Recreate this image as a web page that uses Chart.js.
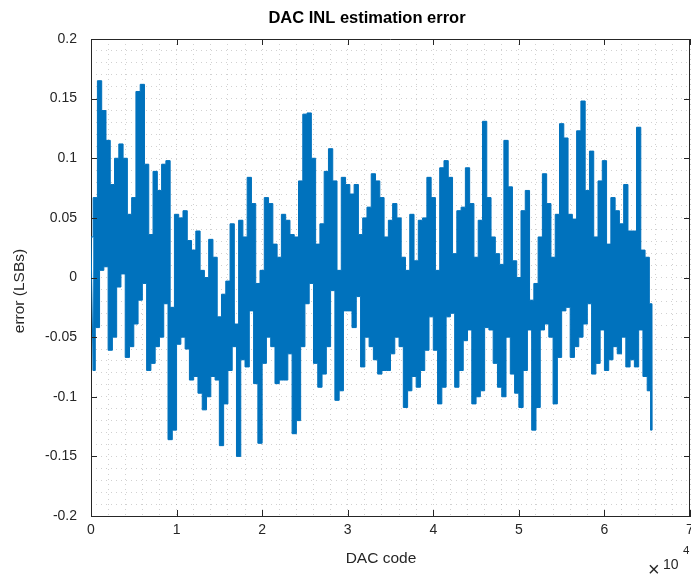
<!DOCTYPE html>
<html>
<head>
<meta charset="utf-8">
<script src="https://cdn.jsdelivr.net/npm/chart.js@4/dist/chart.umd.min.js"></script>
<style>
  html, body { margin: 0; padding: 0; background: #fff; }
  #wrap { width: 691px; height: 576px; }
</style>
</head>
<body>
<div id="wrap"><canvas id="inl"></canvas></div>
<script>
// INL error envelope, one top/bottom pair per 500 codes
var binWidth = 500;
var lastCode = 65535;
var errHi = [
  0.034, 0.067, 0.165, 0.140, 0.115, 0.078, 0.100, 0.112, 0.100, 0.053,
  0.067, 0.156, 0.162, 0.095, 0.036, 0.089, 0.073, 0.095, 0.098, -0.025,
  0.053, 0.050, 0.056, 0.031, 0.023, 0.039, 0.006, 0.000, 0.032, 0.017,
  -0.033, -0.014, -0.003, 0.045, -0.039, 0.048, 0.034, 0.084, 0.062, -0.005,
  0.006, 0.067, 0.062, 0.028, 0.017, 0.053, 0.048, 0.036, 0.034, 0.081,
  0.137, 0.138, 0.100, 0.028, 0.045, 0.089, 0.108, 0.081, 0.006, 0.084,
  0.078, 0.070, 0.078, 0.036, 0.050, 0.059, 0.087, 0.081, 0.067, 0.034,
  0.048, 0.062, 0.050, 0.017, 0.006, 0.053, 0.014, 0.048, 0.050, 0.084,
  0.067, 0.006, 0.092, 0.098, 0.084, 0.020, 0.056, 0.059, 0.092, 0.062,
  0.017, 0.048, 0.131, 0.067, 0.034, 0.020, 0.011, 0.115, 0.076, 0.014,
  0.000, 0.056, 0.073, -0.019, -0.005, 0.034, 0.087, 0.062, 0.017, 0.053,
  0.129, 0.117, 0.053, 0.049, 0.123, 0.148, 0.073, 0.106, 0.034, 0.081,
  0.098, 0.028, 0.067, 0.056, 0.045, 0.078, 0.039, 0.039, 0.126, 0.023,
  0.017, -0.022
];
var errLo = [
  -0.078, -0.042, 0.006, 0.009, -0.061, -0.050, -0.008, 0.003, -0.067, -0.058,
  -0.039, -0.019, -0.005, -0.078, -0.072, -0.058, -0.050, -0.022, -0.136, -0.128,
  -0.056, -0.050, -0.060, -0.086, -0.083, -0.097, -0.111, -0.100, -0.083, -0.086,
  -0.141, -0.106, -0.078, -0.058, -0.150, -0.069, -0.075, -0.028, -0.089, -0.139,
  -0.072, -0.050, -0.058, -0.089, -0.086, -0.086, -0.064, -0.131, -0.120, -0.058,
  -0.022, -0.005, -0.072, -0.092, -0.081, -0.058, -0.011, -0.103, -0.095, -0.028,
  -0.028, -0.042, -0.016, -0.075, -0.050, -0.058, -0.069, -0.081, -0.078, -0.078,
  -0.064, -0.050, -0.058, -0.109, -0.095, -0.083, -0.092, -0.078, -0.061, -0.033,
  -0.061, -0.106, -0.092, -0.033, -0.030, -0.092, -0.078, -0.053, -0.044, -0.106,
  -0.100, -0.095, -0.042, -0.044, -0.072, -0.092, -0.100, -0.050, -0.081, -0.097,
  -0.109, -0.078, -0.044, -0.128, -0.109, -0.044, -0.039, -0.050, -0.106, -0.067,
  -0.028, -0.025, -0.067, -0.058, -0.050, -0.039, -0.022, -0.081, -0.072, -0.044,
  -0.078, -0.069, -0.058, -0.064, -0.050, -0.075, -0.069, -0.075, -0.044, -0.083,
  -0.095, -0.128
];
var xTicks = [0, 1, 2, 3, 4, 5, 6, 7];       // x 10^4
var yTicks = [-0.2, -0.15, -0.1, -0.05, 0, 0.05, 0.1, 0.15, 0.2];

var ink = '#262626';
var blue = '#0072BD';
var font = '"Liberation Sans", Arial, sans-serif';

var hiPts = [], loPts = [], zig = [];
for (var i = 0; i < errHi.length; i++) {
  var c0 = i * binWidth;
  var c1 = Math.min(c0 + binWidth / 2, lastCode);
  hiPts.push({x: c0, y: errHi[i]});
  loPts.push({x: c1, y: errLo[i]});
  zig.push({x: c0, y: errHi[i]});
  zig.push({x: c1, y: errLo[i]});
}

var boxTicks = {
  id: 'boxTicks',
  afterDraw: function(chart) {
    var ctx = chart.ctx, a = chart.chartArea;
    var sx = chart.scales.x, sy = chart.scales.y;
    ctx.save();
    ctx.strokeStyle = ink;
    ctx.lineWidth = 1;
    ctx.beginPath();
    ctx.moveTo(a.left, a.top + 0.5); ctx.lineTo(a.right, a.top + 0.5);
    ctx.moveTo(a.right - 0.5, a.top); ctx.lineTo(a.right - 0.5, a.bottom);
    xTicks.forEach(function(t) {
      var px = Math.round(sx.getPixelForValue(t * 1e4)) + 0.5;
      ctx.moveTo(px, a.bottom); ctx.lineTo(px, a.bottom - 6);
      ctx.moveTo(px, a.top); ctx.lineTo(px, a.top + 6);
    });
    yTicks.forEach(function(t) {
      var py = Math.round(sy.getPixelForValue(t)) + 0.5;
      ctx.moveTo(a.left, py); ctx.lineTo(a.left + 6, py);
      ctx.moveTo(a.right, py); ctx.lineTo(a.right - 6, py);
    });
    ctx.stroke();

    ctx.textBaseline = 'alphabetic';
    ctx.textAlign = 'center';
    ctx.fillStyle = '#000';
    ctx.font = 'bold 16.5px ' + font;
    ctx.fillText('DAC INL estimation error', 367, 23);

    ctx.fillStyle = ink;
    ctx.font = '15.5px ' + font;
    ctx.fillText('DAC code', 381, 563);
    ctx.save();
    ctx.translate(24, 291);
    ctx.rotate(-Math.PI / 2);
    ctx.fillText('error (LSBs)', 0, 0);
    ctx.restore();

    // exponent note under the right end of the x axis
    ctx.textAlign = 'left';
    ctx.font = '20px ' + font;
    ctx.fillText('\u00d7', 648, 576);
    ctx.font = '14px ' + font;
    ctx.fillText('10', 663, 569);
    ctx.font = '11.5px ' + font;
    ctx.fillText('4', 683, 554);
    ctx.restore();
  }
};

var dotted = { color: 'rgba(140,140,140,0.4)', lineWidth: 1, drawTicks: false };

new Chart(document.getElementById('inl'), {
  type: 'line',
  data: {
    datasets: [{
      data: hiPts,
      borderColor: blue,
      borderWidth: 1,
      pointRadius: 0,
      stepped: 'middle',
      fill: false
    }, {
      data: loPts,
      borderColor: blue,
      backgroundColor: blue,
      borderWidth: 1,
      pointRadius: 0,
      stepped: 'middle',
      fill: '-1'
    }, {
      data: zig,
      borderColor: blue,
      borderWidth: 1,
      pointRadius: 0,
      tension: 0,
      fill: false
    }]
  },
  options: {
    responsive: true,
    maintainAspectRatio: false,
    animation: false,
    events: [],
    layout: { padding: { left: 0, right: 1, top: 39, bottom: 0 } },
    plugins: {
      legend: { display: false },
      tooltip: { enabled: false },
      title: { display: false }
    },
    scales: {
      x: {
        type: 'linear',
        position: 'bottom',
        min: 0, max: 70000,
        afterBuildTicks: function(s) { s.ticks = xTicks.map(function(v) { return {value: v * 1e4}; }); },
        afterFit: function(s) { s.height = 60; s.paddingLeft = 0; s.paddingRight = 0; },
        ticks: {
          color: ink,
          maxRotation: 0,
          padding: 6,
          font: { family: font, size: 14 },
          callback: function(v) { return String(v / 1e4); }
        },
        grid: { display: false, drawTicks: false },
        border: { display: true, color: ink, width: 1 }
      },
      y: {
        type: 'linear',
        position: 'left',
        min: -0.2, max: 0.2,
        afterBuildTicks: function(s) { s.ticks = yTicks.map(function(v) { return {value: v}; }); },
        afterFit: function(s) { s.width = 91; s.paddingTop = 0; s.paddingBottom = 0; },
        ticks: {
          color: ink,
          padding: 14,
          font: { family: font, size: 14 },
          callback: function(v) { return String(Math.round(v * 100) / 100); }
        },
        grid: { display: false, drawTicks: false },
        border: { display: true, color: ink, width: 1 }
      },
      xg: {
        type: 'linear',
        position: 'top',
        min: 0, max: 70000,
        ticks: { display: false, stepSize: 2000 },
        afterFit: function(s) { s.height = 0; s.paddingLeft = 0; s.paddingRight = 0; },
        grid: dotted,
        border: { display: false, dash: [1, 4] }
      },
      yg: {
        type: 'linear',
        position: 'right',
        min: -0.2, max: 0.2,
        ticks: { display: false, stepSize: 0.01 },
        afterFit: function(s) { s.width = 0; s.paddingTop = 0; s.paddingBottom = 0; },
        grid: dotted,
        border: { display: false, dash: [1, 4] }
      }
    }
  },
  plugins: [boxTicks]
});
</script>
</body>
</html>
